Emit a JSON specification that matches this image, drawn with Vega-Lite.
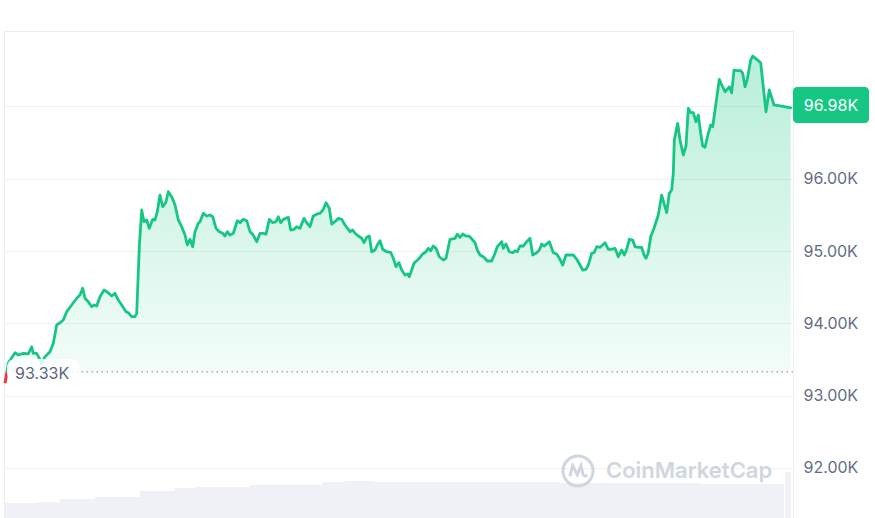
{
  "$schema": "https://vega.github.io/schema/vega-lite/v6.json",
  "width": 789,
  "height": 487,
  "autosize": "none",
  "padding": {"left": 4, "top": 31, "right": 82, "bottom": 0},
  "background": "#ffffff",
  "config": {
    "view": {"stroke": "#e9ecf0", "strokeWidth": 1},
    "font": "Inter"
  },
  "datasets": {
    "price": [
      {"t": 2, "v": 93330}, {"t": 3.3, "v": 93451}, {"t": 10, "v": 93593}, {"t": 13.3, "v": 93562},
      {"t": 18.3, "v": 93585}, {"t": 23.3, "v": 93576}, {"t": 26.7, "v": 93676}, {"t": 28.3, "v": 93585},
      {"t": 31.7, "v": 93585}, {"t": 34.3, "v": 93516}, {"t": 36.7, "v": 93447}, {"t": 40, "v": 93538},
      {"t": 45, "v": 93607}, {"t": 48.3, "v": 93723}, {"t": 51.7, "v": 93977}, {"t": 55, "v": 94008},
      {"t": 58.3, "v": 94046}, {"t": 61.7, "v": 94161}, {"t": 66.7, "v": 94253}, {"t": 71.7, "v": 94346},
      {"t": 75, "v": 94391}, {"t": 77.7, "v": 94484}, {"t": 80, "v": 94346}, {"t": 83.3, "v": 94299},
      {"t": 86.7, "v": 94230}, {"t": 89.3, "v": 94253}, {"t": 91.7, "v": 94239}, {"t": 95, "v": 94368},
      {"t": 99, "v": 94461}, {"t": 103.3, "v": 94423}, {"t": 106.7, "v": 94378}, {"t": 110, "v": 94415},
      {"t": 113.3, "v": 94322}, {"t": 116.7, "v": 94253}, {"t": 121, "v": 94161}, {"t": 123.3, "v": 94147},
      {"t": 126.7, "v": 94091}, {"t": 130, "v": 94091}, {"t": 131.7, "v": 94138}, {"t": 134.3, "v": 95059},
      {"t": 136.7, "v": 95567}, {"t": 139, "v": 95405}, {"t": 141.7, "v": 95429}, {"t": 144.3, "v": 95314},
      {"t": 147.7, "v": 95438}, {"t": 150, "v": 95429}, {"t": 152.3, "v": 95544}, {"t": 155, "v": 95774},
      {"t": 157.7, "v": 95613}, {"t": 160.7, "v": 95668}, {"t": 163.3, "v": 95820}, {"t": 166.7, "v": 95751},
      {"t": 170, "v": 95636}, {"t": 173.3, "v": 95429}, {"t": 176.7, "v": 95336}, {"t": 180, "v": 95221},
      {"t": 182.3, "v": 95083}, {"t": 185, "v": 95162}, {"t": 187.7, "v": 95059}, {"t": 190, "v": 95267},
      {"t": 193.3, "v": 95383}, {"t": 195, "v": 95405}, {"t": 198.3, "v": 95521}, {"t": 201.7, "v": 95484},
      {"t": 205, "v": 95498}, {"t": 207.7, "v": 95474}, {"t": 211, "v": 95314}, {"t": 214.3, "v": 95267},
      {"t": 217.7, "v": 95245}, {"t": 220, "v": 95207}, {"t": 222.3, "v": 95267}, {"t": 225, "v": 95221},
      {"t": 228.3, "v": 95245}, {"t": 232.3, "v": 95419}, {"t": 235, "v": 95391}, {"t": 238.3, "v": 95438},
      {"t": 241.7, "v": 95419}, {"t": 245, "v": 95267}, {"t": 248.3, "v": 95221}, {"t": 251.7, "v": 95129},
      {"t": 255, "v": 95245}, {"t": 258.3, "v": 95245}, {"t": 261, "v": 95231}, {"t": 264.3, "v": 95438},
      {"t": 267.7, "v": 95391}, {"t": 271, "v": 95405}, {"t": 273.3, "v": 95474}, {"t": 275.7, "v": 95391},
      {"t": 278.3, "v": 95438}, {"t": 283.3, "v": 95466}, {"t": 285.7, "v": 95290}, {"t": 289, "v": 95300},
      {"t": 291.7, "v": 95336}, {"t": 295, "v": 95314}, {"t": 299, "v": 95452}, {"t": 301.7, "v": 95391},
      {"t": 305, "v": 95336}, {"t": 308.3, "v": 95484}, {"t": 312.3, "v": 95512}, {"t": 315, "v": 95521},
      {"t": 318.3, "v": 95577}, {"t": 321, "v": 95668}, {"t": 324.3, "v": 95591}, {"t": 326.7, "v": 95373},
      {"t": 330, "v": 95405}, {"t": 333.3, "v": 95452}, {"t": 336.7, "v": 95438}, {"t": 340, "v": 95360},
      {"t": 345, "v": 95267}, {"t": 347.7, "v": 95290}, {"t": 350, "v": 95245}, {"t": 353.3, "v": 95207},
      {"t": 356.7, "v": 95176}, {"t": 359, "v": 95115}, {"t": 361.7, "v": 95189}, {"t": 364.3, "v": 95207},
      {"t": 366.7, "v": 94990}, {"t": 370, "v": 95014}, {"t": 372.3, "v": 95083}, {"t": 375, "v": 95142},
      {"t": 377.7, "v": 95024}, {"t": 381.7, "v": 94990}, {"t": 385.7, "v": 94982}, {"t": 388.3, "v": 94899},
      {"t": 391, "v": 94783}, {"t": 394, "v": 94838}, {"t": 396.7, "v": 94737}, {"t": 400, "v": 94668},
      {"t": 402.7, "v": 94682}, {"t": 404.3, "v": 94645}, {"t": 406.7, "v": 94737}, {"t": 409, "v": 94830},
      {"t": 413.3, "v": 94885}, {"t": 417.7, "v": 94959}, {"t": 421, "v": 94990}, {"t": 423.3, "v": 95037},
      {"t": 425.7, "v": 95004}, {"t": 428.3, "v": 95069}, {"t": 431, "v": 95037}, {"t": 434.3, "v": 94921},
      {"t": 438.3, "v": 94876}, {"t": 441, "v": 94899}, {"t": 445, "v": 95162}, {"t": 450, "v": 95176},
      {"t": 452.3, "v": 95231}, {"t": 455, "v": 95189}, {"t": 457.7, "v": 95235}, {"t": 461, "v": 95207},
      {"t": 464.3, "v": 95207}, {"t": 467.7, "v": 95152}, {"t": 470, "v": 95115}, {"t": 472.3, "v": 95014},
      {"t": 475, "v": 94945}, {"t": 479, "v": 94913}, {"t": 482.3, "v": 94862}, {"t": 486.7, "v": 94862},
      {"t": 490, "v": 94968}, {"t": 492.3, "v": 95059}, {"t": 496.7, "v": 95129}, {"t": 498.3, "v": 95037},
      {"t": 501, "v": 95097}, {"t": 504.3, "v": 94990}, {"t": 507.7, "v": 94976}, {"t": 510, "v": 95004},
      {"t": 512.3, "v": 94990}, {"t": 515, "v": 95069}, {"t": 518.3, "v": 95069}, {"t": 521.7, "v": 95129},
      {"t": 525, "v": 95176}, {"t": 527.7, "v": 94945}, {"t": 531.7, "v": 94976}, {"t": 534.3, "v": 95014},
      {"t": 536.7, "v": 95097}, {"t": 539, "v": 95069}, {"t": 541.7, "v": 95097}, {"t": 544.3, "v": 95129},
      {"t": 548.3, "v": 94976}, {"t": 551.7, "v": 94959}, {"t": 555, "v": 94885}, {"t": 557.7, "v": 94806},
      {"t": 561, "v": 94945}, {"t": 565, "v": 94945}, {"t": 568.3, "v": 94945}, {"t": 571.7, "v": 94885},
      {"t": 575, "v": 94806}, {"t": 577.7, "v": 94737}, {"t": 581, "v": 94747}, {"t": 583.3, "v": 94806},
      {"t": 586.7, "v": 94968}, {"t": 589, "v": 94976}, {"t": 591.7, "v": 95059}, {"t": 595, "v": 95051},
      {"t": 597.7, "v": 95083}, {"t": 600, "v": 95115}, {"t": 603.3, "v": 95024}, {"t": 606.7, "v": 95024},
      {"t": 610, "v": 95037}, {"t": 613.3, "v": 94921}, {"t": 616.7, "v": 95014}, {"t": 619.3, "v": 94945},
      {"t": 621.7, "v": 95024}, {"t": 624.3, "v": 95162}, {"t": 627.7, "v": 95152}, {"t": 630, "v": 95059},
      {"t": 633.3, "v": 95051}, {"t": 636.7, "v": 95051}, {"t": 639, "v": 94945}, {"t": 641, "v": 94899},
      {"t": 643.3, "v": 94976}, {"t": 645.7, "v": 95198}, {"t": 649, "v": 95314}, {"t": 653.3, "v": 95498},
      {"t": 656.7, "v": 95774}, {"t": 659, "v": 95660}, {"t": 661.7, "v": 95530}, {"t": 664.3, "v": 95798},
      {"t": 666.7, "v": 95844}, {"t": 668.3, "v": 96075}, {"t": 669.3, "v": 96535}, {"t": 672.7, "v": 96766},
      {"t": 675, "v": 96535}, {"t": 678.3, "v": 96328}, {"t": 681, "v": 96452}, {"t": 683.3, "v": 96974},
      {"t": 685.7, "v": 96913}, {"t": 688.3, "v": 96913}, {"t": 691, "v": 96788}, {"t": 693.3, "v": 96881},
      {"t": 695.7, "v": 96628}, {"t": 697.7, "v": 96452}, {"t": 700, "v": 96434}, {"t": 703.3, "v": 96628},
      {"t": 705.7, "v": 96743}, {"t": 707.7, "v": 96719}, {"t": 711, "v": 97043}, {"t": 714.3, "v": 97375},
      {"t": 716.7, "v": 97296}, {"t": 720, "v": 97203}, {"t": 722.3, "v": 97236}, {"t": 724.3, "v": 97272},
      {"t": 726.7, "v": 97189}, {"t": 729, "v": 97503}, {"t": 732.3, "v": 97494}, {"t": 735.7, "v": 97494},
      {"t": 737.7, "v": 97458}, {"t": 740, "v": 97272}, {"t": 742.3, "v": 97375}, {"t": 745.7, "v": 97642},
      {"t": 747.7, "v": 97697}, {"t": 751.7, "v": 97651}, {"t": 755.7, "v": 97604}, {"t": 757.7, "v": 97341},
      {"t": 761, "v": 96926}, {"t": 764.3, "v": 97227}, {"t": 769, "v": 97020}, {"t": 778, "v": 97000},
      {"t": 785.7, "v": 96980}
    ],
    "redStart": [
      {"t": 0, "v": 93170}, {"t": 2, "v": 93330}
    ],
    "volume": [
      {"t0": 0, "t1": 32, "vol": 15}, {"t0": 32, "t1": 55, "vol": 16}, {"t0": 55, "t1": 90, "vol": 19},
      {"t0": 90, "t1": 135, "vol": 21}, {"t0": 135, "t1": 170, "vol": 27}, {"t0": 170, "t1": 190, "vol": 30},
      {"t0": 190, "t1": 245, "vol": 31}, {"t0": 245, "t1": 317, "vol": 33}, {"t0": 317, "t1": 340, "vol": 36},
      {"t0": 340, "t1": 368, "vol": 37}, {"t0": 368, "t1": 415, "vol": 36}, {"t0": 415, "t1": 555, "vol": 36},
      {"t0": 555, "t1": 695, "vol": 35}, {"t0": 695, "t1": 779, "vol": 34}, {"t0": 780, "t1": 786, "vol": 46}
    ],
    "one": [{}]
  },
  "layer": [
    {
      "data": {"name": "volume"},
      "mark": {"type": "rect", "color": "#eff1f6"},
      "encoding": {
        "x": {"field": "t0", "type": "quantitative", "scale": {"domain": [-1, 788], "nice": false, "zero": false}, "axis": null},
        "x2": {"field": "t1"},
        "y": {"field": "vol", "type": "quantitative", "scale": {"domain": [0, 487], "nice": false}, "axis": null},
        "y2": {"datum": 0}
      }
    },
    {
      "layer": [
        {
          "data": {"name": "price"},
          "mark": {
            "type": "area",
            "color": {
              "gradient": "linear", "x1": 0, "y1": 0, "x2": 0, "y2": 1,
              "stops": [
                {"offset": 0, "color": "rgba(22,199,132,0.30)"},
                {"offset": 1, "color": "rgba(22,199,132,0.05)"}
              ]
            }
          },
          "encoding": {
            "x": {"field": "t", "type": "quantitative", "scale": {"domain": [-1, 788], "nice": false, "zero": false}, "axis": null},
            "y": {
              "field": "v", "type": "quantitative",
              "scale": {"domain": [91307, 98043], "nice": false, "zero": false},
              "axis": {
                "orient": "right", "title": null,
                "values": [92000, 93000, 94000, 95000, 96000, 97000],
                "labelExpr": "datum.value >= 97000 ? '' : format(datum.value / 1000, '.2f') + 'K'",
                "grid": true, "gridColor": "#eff2f5", "gridWidth": 1,
                "domain": true, "domainColor": "#eff2f5",
                "ticks": false, "labelPadding": 10,
                "labelFont": "Inter", "labelFontSize": 16, "labelColor": "#616e85", "labelAlign": "left"
              }
            },
            "y2": {"datum": 93330}
          }
        },
        {
          "data": {"name": "one"},
          "mark": {"type": "rule", "color": "#a3abbd", "strokeWidth": 1.5, "strokeDash": [1.5, 3.5]},
          "encoding": {"y": {"datum": 93330}}
        },
        {
          "data": {"name": "redStart"},
          "mark": {"type": "line", "color": "#ea3943", "strokeWidth": 3},
          "encoding": {
            "x": {"field": "t", "type": "quantitative"},
            "y": {"field": "v", "type": "quantitative"}
          }
        },
        {
          "data": {"name": "price"},
          "mark": {"type": "line", "color": "#16c784", "strokeWidth": 2.8, "strokeJoin": "round", "strokeCap": "round"},
          "encoding": {
            "x": {"field": "t", "type": "quantitative"},
            "y": {"field": "v", "type": "quantitative"}
          }
        },
        {
          "data": {"name": "one"},
          "mark": {"type": "rect", "color": "#ffffff", "opacity": 0.85, "cornerRadius": 8},
          "encoding": {
            "x": {"datum": 2}, "x2": {"datum": 74},
            "y": {"datum": 93506}, "y2": {"datum": 93202}
          }
        },
        {
          "data": {"name": "one"},
          "mark": {"type": "text", "text": "93.33K", "align": "left", "baseline": "middle", "font": "Inter", "fontSize": 16, "color": "#58667e", "dy": 2},
          "encoding": {"x": {"datum": 10}, "y": {"datum": 93330}}
        },
        {
          "data": {"name": "one"},
          "mark": {"type": "rect", "color": "#16c784", "cornerRadius": 4},
          "encoding": {
            "x": {"datum": 788}, "x2": {"datum": 864},
            "y": {"datum": 97268}, "y2": {"datum": 96770}
          }
        },
        {
          "data": {"name": "one"},
          "mark": {"type": "text", "text": "96.98K", "align": "center", "baseline": "middle", "font": "Inter", "fontSize": 16, "color": "#ffffff"},
          "encoding": {"x": {"datum": 826}, "y": {"datum": 97005}}
        },
        {
          "data": {"name": "one"},
          "mark": {"type": "point", "shape": "circle", "size": 900, "filled": false, "strokeWidth": 3, "color": "#d0d6e0", "opacity": 1},
          "encoding": {"x": {"datum": 573}, "y": {"datum": 91957}}
        },
        {
          "data": {"name": "one"},
          "mark": {"type": "point", "shape": "M-0.55,0.35 L-0.35,-0.35 L-0.05,0.25 L0.2,-0.35 L0.32,0.18 Q0.42,0.42 0.62,0.28", "size": 900, "filled": false, "strokeWidth": 3, "color": "#d0d6e0", "opacity": 1},
          "encoding": {"x": {"datum": 573}, "y": {"datum": 91957}}
        },
        {
          "data": {"name": "one"},
          "mark": {"type": "text", "text": "CoinMarketCap", "align": "left", "baseline": "middle", "font": "Inter", "fontSize": 22, "fontWeight": 600, "color": "#d0d6e0"},
          "encoding": {"x": {"datum": 601}, "y": {"datum": 91957}}
        }
      ]
    }
  ],
  "resolve": {"scale": {"y": "independent"}}
}
